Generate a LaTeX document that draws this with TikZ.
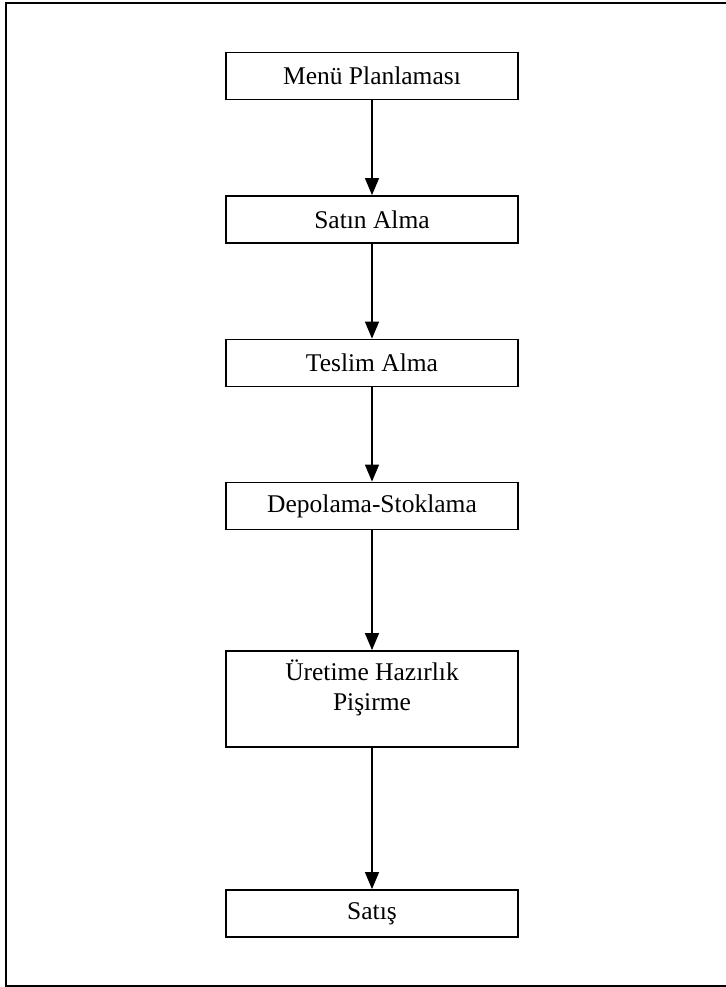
\documentclass[tikz,border=0pt]{standalone}
\usepackage{fontspec}
\setmainfont{Liberation Serif}
\usetikzlibrary{arrows.meta}
\begin{document}
\begin{tikzpicture}[x=1pt,y=-1pt,
  steptext/.style={inner sep=0pt,align=center,font=\fontsize{25.5}{30}\selectfont},
  stepbox/.style={steptext,draw,line width=1.8pt,minimum width=292pt,minimum height=47pt},
  flow/.style={line width=1.4pt,-{Triangle[length=17pt,width=14pt]}}]
  \useasboundingbox (0,0) rectangle (725,987);
  % outer frame, open on the right
  \draw[line width=2pt] (728,3) -- (6,3) -- (6,986) -- (728,986);
  % process steps
  \node[stepbox] (menu) at (372,76) {Menü Planlaması};
  \node[stepbox] (satin) at (372,219.5) {Satın Alma};
  \node[stepbox] (teslim) at (372,363) {Teslim Alma};
  \node[stepbox] (depo) at (372,506) {Depolama-Stoklama};
  \node[stepbox,minimum height=96pt] (uretim) at (372,699) {};
  \node[steptext] (uretimtxt) at (372,688) {Üretime Hazırlık\\Pişirme};
  \node[stepbox] (satis) at (372,913.5) {Satış};
  % connectors
  \draw[flow] (menu) -- (satin);
  \draw[flow] (satin) -- (teslim);
  \draw[flow] (teslim) -- (depo);
  \draw[flow] (depo) -- (uretim);
  \draw[flow] (uretim) -- (satis);
\end{tikzpicture}
\end{document}
